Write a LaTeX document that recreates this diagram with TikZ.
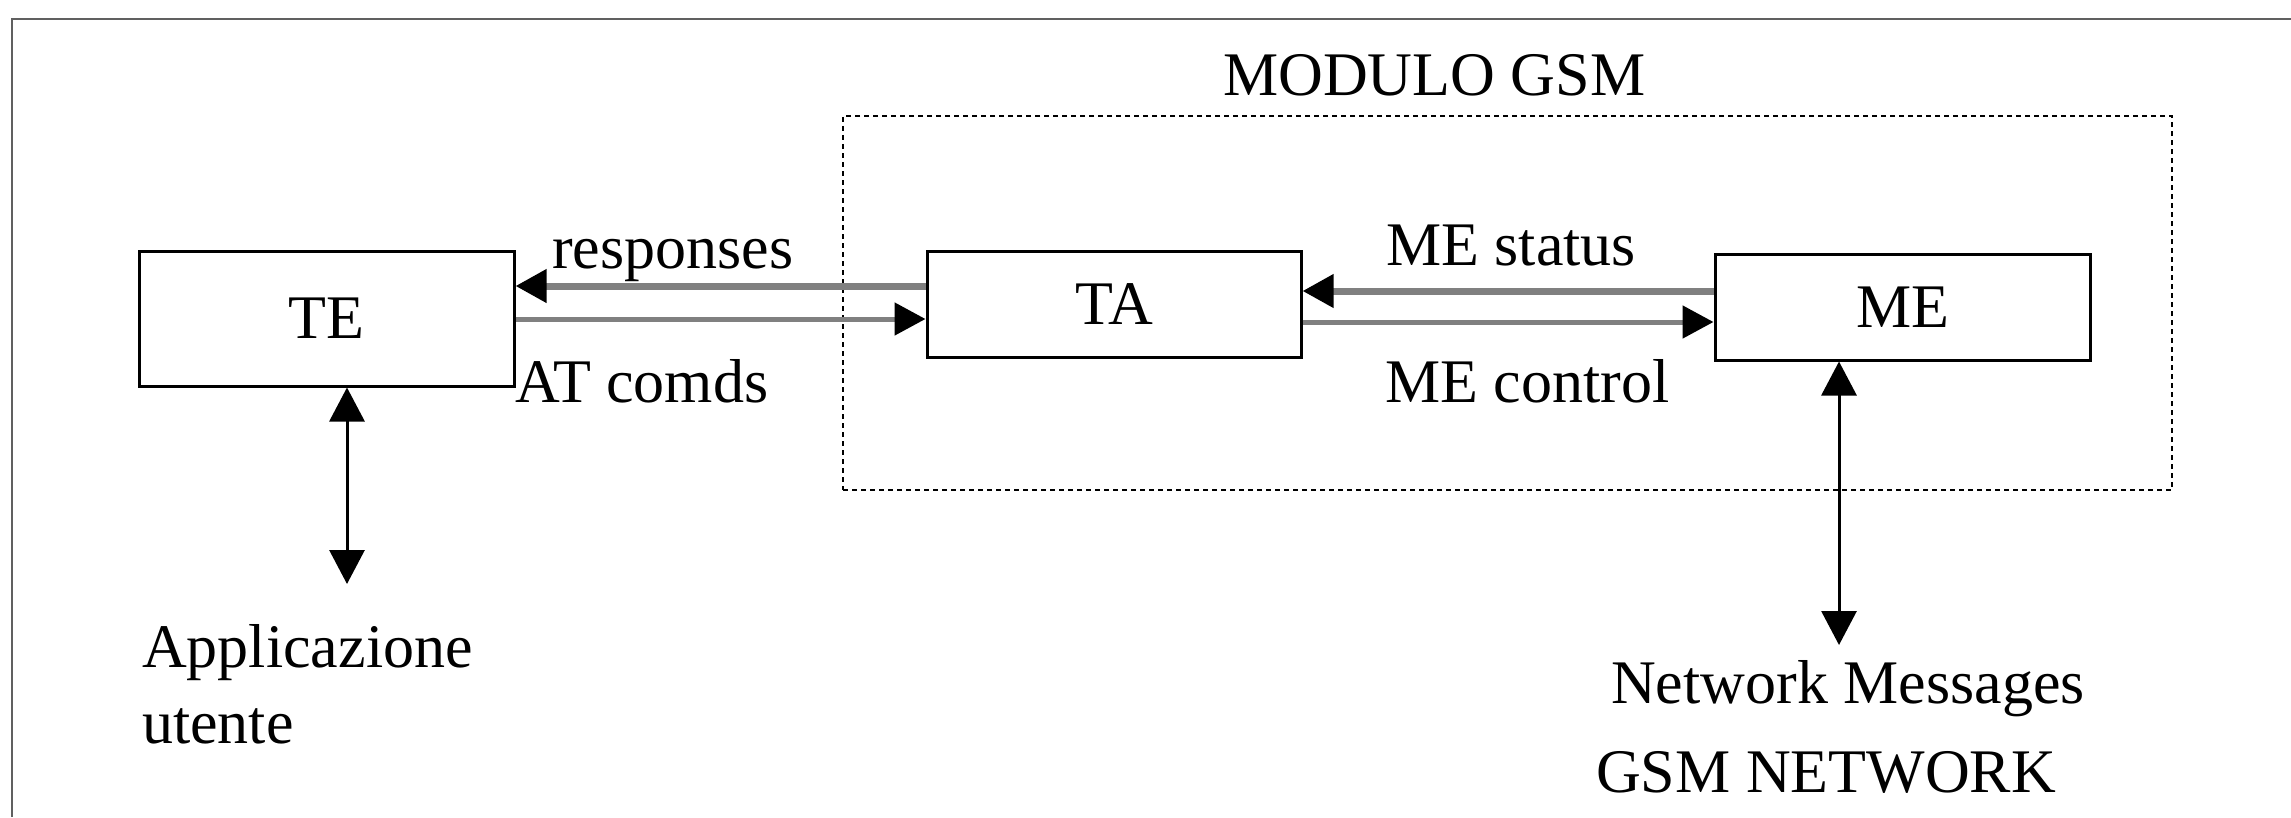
\documentclass[tikz,border=0pt]{standalone}
\usepackage{fontspec}
\setmainfont{Liberation Serif}
\usetikzlibrary{arrows.meta}
\definecolor{framegray}{RGB}{96,96,96}
\definecolor{linkgray}{RGB}{128,128,128}
\tikzset{
  bigfont/.style={font=\fontsize{62}{76}\selectfont},
  blockbox/.style={draw=black, line width=3pt, fill=white, bigfont, inner sep=0pt},
  lbl/.style={bigfont, inner sep=0pt, anchor=base west},
  glink/.style={draw=linkgray, line width=#1, -{Triangle[length=31pt,width=32pt,color=black]}},
  vlink/.style={draw=black, line width=3pt, {Triangle[length=34pt,width=35pt]}-{Triangle[length=34pt,width=35pt]}},
  modbox/.style={draw=black, line width=2.5pt, dash pattern=on 5pt off 4pt, inner sep=0pt}
}
\begin{document}
\begin{tikzpicture}[x=1pt,y=-1pt]
\useasboundingbox (0,0) rectangle (2291,817);
% outer frame
\draw[framegray, line width=2.5pt] (12,817) -- (12,19) -- (2291,19);
% GSM module box
\node[modbox, minimum width=1329pt, minimum height=374pt] (gsm) at (1507.5,303) {};
\node[lbl] (modlbl) at (1223,95) {MODULO GSM};
% blocks
\node[blockbox, minimum width=375pt, minimum height=135pt] (TE) at (326.5,318.5) {TE};
\node[blockbox, minimum width=374pt, minimum height=106pt] (TA) at (1114,304) {TA};
\node[blockbox, minimum width=375pt, minimum height=106pt] (ME) at (1902.5,307) {ME};
% horizontal links
\draw[glink=7pt] ([yshift=18pt]TA.west) -- ([yshift=18pt]TA.west -| TE.east);
\draw[glink=5pt] ([yshift=-15pt]TA.west -| TE.east) -- ([yshift=-15pt]TA.west);
\draw[glink=7pt] ([yshift=16pt]ME.west) -- ([yshift=16pt]ME.west -| TA.east);
\draw[glink=5pt] ([yshift=-15pt]ME.west -| TA.east) -- ([yshift=-15pt]ME.west);
\node[lbl] (resp) at (552,268) {responses};
\node[lbl] (atc) at (515,402) {AT comds};
\node[lbl] (mes) at (1386,265) {ME status};
\node[lbl] (mec) at (1385,402) {ME control};
% vertical links
\coordinate (append) at (347,584);
\draw[vlink] ([xshift=20.5pt]TE.south) -- (append);
\coordinate (netend) at (1839,645);
\draw[vlink] ([xshift=-63.5pt]ME.south) -- (netend);
\node[lbl] (app1) at (142,667) {Applicazione};
\node[lbl] (app2) at (142,743) {utente};
\node[lbl] (netmsg) at (1611,703) {Network Messages};
\node[lbl] (gsmnet) at (1596,792) {GSM NETWORK};
\end{tikzpicture}
\end{document}
